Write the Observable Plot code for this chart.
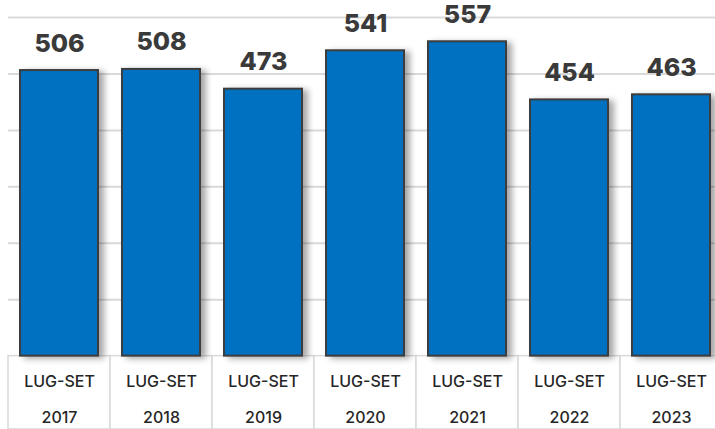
<!DOCTYPE html>
<html>
<head>
<meta charset="utf-8">
<script src="https://cdn.jsdelivr.net/npm/d3@7"></script>
<script src="https://cdn.jsdelivr.net/npm/@observablehq/plot@0.6"></script>
<style>
  html, body { margin: 0; padding: 0; background: #fff; }
</style>
</head>
<body>
<div id="chart"></div>
<script>
const periods = ["LUG-SET", "LUG-SET", "LUG-SET", "LUG-SET", "LUG-SET", "LUG-SET", "LUG-SET"];
const years = ["2017", "2018", "2019", "2020", "2021", "2022", "2023"];
const values = [506, 508, 473, 541, 557, 454, 463];
const gridTicks = [100, 200, 300, 400, 500, 600];
const axisFloor = -130; // extent of the category-label band below zero

const data = years.map((y, i) => ({year: y, period: periods[i], value: values[i]}));

const chart = Plot.plot({
  width: 715,
  height: 429,
  marginLeft: 8,
  marginRight: 0,
  marginTop: 17,
  marginBottom: 0,
  style: {background: "#fff", overflow: "visible"},
  x: {domain: years, range: [8, 722], padding: 0, axis: null},
  y: {domain: [axisFloor, 600], range: [429, 17], axis: null},
  marks: [
    Plot.ruleY(gridTicks, {stroke: "#d9d9d9", strokeWidth: 2}),
    Plot.barY(data, {x: "year", y1: axisFloor, y2: 0, fill: "#fff", stroke: "#d9d9d9", strokeWidth: 1.5}),
    Plot.barY(data, {x: "year", y1: 0, y2: "value", fill: "#0070C0", stroke: "#3d3d3d", strokeWidth: 2, insetLeft: 12, insetRight: 12}),
    Plot.text(data, {x: "year", y: "value", text: d => String(d.value), dy: -27, lineAnchor: "middle",
      fontSize: 25, fontWeight: 800, fill: "#3a3a3a", fontFamily: "Inter, 'Open Sans', sans-serif"}),
    Plot.text(data, {x: "year", text: "period", frameAnchor: "bottom", lineAnchor: "middle", dy: -48,
      fontSize: 16, fontWeight: 500, fill: "#262626", fontFamily: "Inter, 'Open Sans', sans-serif"}),
    Plot.text(data, {x: "year", text: "year", frameAnchor: "bottom", lineAnchor: "middle", dy: -12,
      fontSize: 16, fontWeight: 500, fill: "#262626", fontFamily: "Inter, 'Open Sans', sans-serif"})
  ]
});

// drop shadow for the value bars
const ns = "http://www.w3.org/2000/svg";
const defs = document.createElementNS(ns, "defs");
const filter = document.createElementNS(ns, "filter");
filter.setAttribute("id", "barShadow");
filter.setAttribute("x", "-20%"); filter.setAttribute("y", "-10%");
filter.setAttribute("width", "150%"); filter.setAttribute("height", "130%");
const ds = document.createElementNS(ns, "feDropShadow");
ds.setAttribute("dx", "5"); ds.setAttribute("dy", "2");
ds.setAttribute("stdDeviation", "3");
ds.setAttribute("flood-color", "#000"); ds.setAttribute("flood-opacity", "0.35");
filter.appendChild(ds); defs.appendChild(filter);
chart.insertBefore(defs, chart.firstChild);
const barGroups = chart.querySelectorAll('g[aria-label="bar"]');
if (barGroups.length > 1) barGroups[1].setAttribute("filter", "url(#barShadow)");

document.getElementById("chart").appendChild(chart);
</script>
</body>
</html>
